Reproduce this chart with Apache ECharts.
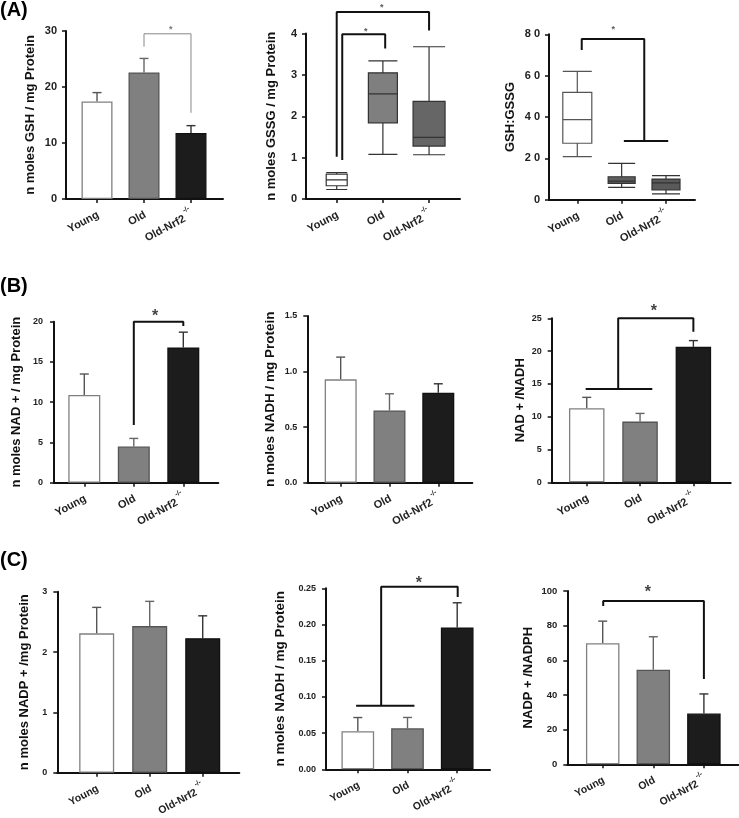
<!DOCTYPE html>
<html><head><meta charset="utf-8">
<script src="https://cdn.jsdelivr.net/npm/echarts@6/dist/echarts.min.js"></script>
<style>html,body{margin:0;padding:0;background:#fff}#c{width:739px;height:818px}</style>
</head><body><div id="c"></div>
<script>
// ---------- DATA ----------
const categories = ['Young', 'Old', 'Old-Nrf2'];
const knockoutMark = '-/-';

// (A) GSH (mean, SEM)
const gshMean = [17.4, 22.6, 11.8];
const gshSem  = [1.6, 2.5, 1.3];
// (A) GSSG box: [min, Q1, median, Q3, max]
const gssgYoung = [0.23, 0.32, 0.46, 0.60, 0.64];
const gssgOld   = [1.08, 1.84, 2.54, 3.05, 3.34];
const gssgNrf2  = [1.07, 1.28, 1.49, 2.36, 3.68];
// (A) GSH:GSSG box
const ratioYoung = [20.8, 27.3, 38.7, 51.9, 62.1];
const ratioOld   = [6.0, 7.9, 9.0, 11.1, 17.6];
const ratioNrf2  = [2.8, 4.7, 8.1, 10.0, 11.6];
// (B)
const nadMean = [10.9, 4.5, 16.8];      const nadSem = [2.6, 1.0, 1.9];
const nadhMean = [0.93, 0.65, 0.81];    const nadhSem = [0.20, 0.15, 0.08];
const nadRatioMean = [11.3, 9.25, 20.65]; const nadRatioSem = [1.65, 1.25, 0.95];
// (C)
const nadpMean = [2.31, 2.43, 2.23];    const nadpSem = [0.43, 0.41, 0.37];
const nadphMean = [0.0525, 0.0566, 0.196]; const nadphSem = [0.019, 0.015, 0.034];
const nadpRatioMean = [69.9, 54.6, 29.3]; const nadpRatioSem = [12.7, 19.0, 11.3];

// y tick values and labels
const ticksA1 = [0, 10, 20, 30];            const labelsA1 = ['0', '10', '20', '30'];
const ticksA2 = [0, 1, 2, 3, 4];            const labelsA2 = ['0', '1', '2', '3', '4'];
const ticksA3 = [0, 20, 40, 60, 80];        const labelsA3 = ['0', '2 0', '4 0', '6 0', '8 0'];
const ticksB1 = [0, 5, 10, 15, 20];         const labelsB1 = ['0', '5', '10', '15', '20'];
const ticksB2 = [0, 0.5, 1, 1.5];           const labelsB2 = ['0.0', '0.5', '1.0', '1.5'];
const ticksB3 = [0, 5, 10, 15, 20, 25];     const labelsB3 = ['0', '5', '10', '15', '20', '25'];
const ticksC1 = [0, 1, 2, 3];               const labelsC1 = ['0', '1', '2', '3'];
const ticksC2 = [0, 0.05, 0.10, 0.15, 0.20, 0.25]; const labelsC2 = ['0.00', '0.05', '0.10', '0.15', '0.20', '0.25'];
const ticksC3 = [0, 20, 40, 60, 80, 100];   const labelsC3 = ['0', '20', '40', '60', '80', '100'];

// significance brackets (data coordinates) and stars
const bracketsA1 = [[[2, 27.2], [2, 29.5], [3, 29.5], [3, 15.4]]];
const starsA1 = [[2.57, 30.7]];
const bracketsA2 = [[[1, 1.02], [1, 4.52], [3, 4.52], [3, 4.07]], [[1.12, 0.94], [1.12, 3.98], [2.05, 3.98], [2.05, 3.64]]];
const starsA2 = [[1.975, 4.69], [1.63, 4.10]];
const bracketsA3 = [[[1.10, 72.4], [1.10, 77.7], [2.51, 77.7], [2.51, 28.4]], [[2.05, 28.4], [3.05, 28.4]]];
const starsA3 = [[1.81, 83.2]];
const bracketsB1 = [[[2, 7.17], [2, 20.0], [3, 20.0], [3, 19.47]]];
const starsB1 = [[2.43, 21.1]];
const bracketsB3 = [[[0.98, 14.22], [2.23, 14.22]], [[1.59, 14.22], [1.59, 25.0], [3, 25.0], [3, 22.96]]];
const starsB3 = [[2.26, 26.6]];
const bracketsC2 = [[[0.966, 0.0878], [2.14, 0.0878]], [[1.47, 0.0878], [1.47, 0.252], [3.01, 0.252], [3.01, 0.238]]];
const starsC2 = [[2.23, 0.262]];
const bracketsC3 = [[[1.01, 91.3], [1.01, 94.2], [3, 94.2], [3, 49.2]]];
const starsC3 = [[1.89, 101.6]];

// ---------- STYLE / LAYOUT ----------
const FONT = 'Liberation Sans, Arial, Helvetica, sans-serif';
const BAR_FILL = ['#ffffff', '#808080', '#1c1c1c'];
const BAR_BORDER = ['#808080', '#555555', '#111111'];
const ERR_COLOR = ['#555555', '#666666', '#333333'];

const option = {
  backgroundColor: '#ffffff',
  animation: false,
  grid: [], xAxis: [], yAxis: [], series: [],
  graphic: [
    {type: 'text', left: 0, top: 0, style: {text: '(A)', font: 'bold 20px ' + FONT, fill: '#000'}},
    {type: 'text', left: 0, top: 276, style: {text: '(B)', font: 'bold 20px ' + FONT, fill: '#000'}},
    {type: 'text', left: 0, top: 550, style: {text: '(C)', font: 'bold 20px ' + FONT, fill: '#000'}}
  ]
};

function addPanel(p) {
  const i = option.grid.length;
  const xi = option.xAxis.length;
  option.grid.push({left: p.box[0], top: p.box[1], width: p.box[2], height: p.box[3], containLabel: false});
  const xf = p.xFont || 11;
  option.xAxis.push({
    type: 'value', gridIndex: i, min: p.xr[0], max: p.xr[1],
    splitLine: {show: false},
    axisLine: {show: true, onZero: false, lineStyle: {color: '#111', width: 2}},
    axisTick: {show: true, customValues: [1, 2, 3], length: 4, lineStyle: {color: '#111', width: 1.5}},
    axisLabel: {
      show: true, customValues: [1, 2, 3], rotate: p.rot || 28, margin: 13,
      formatter: v => {
        const k = Math.round(v) - 1;
        return k === 2 ? '{a|' + categories[k] + '}{s| ' + knockoutMark + '}' : '{a|' + categories[k] + '}';
      },
      rich: {
        a: {fontFamily: FONT, fontWeight: 'bold', fontSize: xf, color: '#222', lineHeight: 16, verticalAlign: 'bottom'},
        s: {fontFamily: FONT, fontWeight: 'bold', fontSize: 7, color: '#222', lineHeight: 16, verticalAlign: 'top'}
      }
    }
  });
  const t = p.ticks;
  option.yAxis.push({
    type: 'value', gridIndex: i, min: t[0], max: t[t.length - 1], interval: t[1] - t[0],
    name: p.name, nameLocation: 'middle', nameGap: p.gap, nameRotate: 90,
    nameTextStyle: {fontFamily: FONT, fontWeight: 'bold', fontSize: p.nameFont || 13, color: '#111'},
    axisLine: {show: true, lineStyle: {color: '#111', width: 2}},
    axisTick: {show: true, length: 4, lineStyle: {color: '#111', width: 1.5}},
    axisLabel: {
      fontFamily: FONT, fontWeight: 'bold', fontSize: p.yFont || 11, color: '#222', margin: p.yMargin || 9,
      formatter: v => p.labels[Math.round((v - t[0]) / (t[1] - t[0]))]
    },
    splitLine: {show: false}
  });
  if (p.mean) {
    option.series.push({
      type: 'custom', xAxisIndex: xi, yAxisIndex: i, z: 2, silent: true,
      encode: {x: 0, y: [1, 2]},
      data: p.mean.map((m, k) => [k + 1, m, m + p.sem[k]]),
      renderItem: (params, api) => {
        const x = api.value(0);
        const lo = api.coord([x, api.value(1)]);
        const hi = api.coord([x, api.value(2)]);
        const c = ERR_COLOR[params.dataIndex];
        return {type: 'group', children: [
          {type: 'line', shape: {x1: lo[0], y1: lo[1], x2: hi[0], y2: hi[1]}, style: {stroke: c, lineWidth: 1.4}},
          {type: 'line', shape: {x1: hi[0] - 4.5, y1: hi[1], x2: hi[0] + 4.5, y2: hi[1]}, style: {stroke: c, lineWidth: 1.4}}
        ]};
      }
    });
    option.series.push({
      type: 'bar', xAxisIndex: xi, yAxisIndex: i, z: 3, barWidth: p.barW, silent: true,
      data: p.mean.map((m, k) => ({value: [k + 1, m], itemStyle: {color: BAR_FILL[k], borderColor: BAR_BORDER[k], borderWidth: 1.3}}))
    });
  }
  if (p.boxes) {
    p.boxes.forEach((b, k) => {
      // each box on its own hidden copy of the x axis, so boxes are not offset side by side
      const bx = option.xAxis.length;
      option.xAxis.push({type: 'value', gridIndex: i, min: p.xr[0], max: p.xr[1], show: false});
      option.series.push({
        type: 'boxplot', xAxisIndex: bx, yAxisIndex: i, z: 3, silent: true,
        boxWidth: [p.boxW[k], p.boxW[k]],
        itemStyle: {color: p.boxFill[k], borderColor: p.boxBorder[k], borderWidth: 1.2},
        data: [[k + 1].concat(b)]
      });
    });
  }
  (p.brackets || []).forEach(br => {
    option.series.push({
      type: 'line', xAxisIndex: xi, yAxisIndex: i, z: 5, silent: true, clip: false,
      symbol: 'none', data: br,
      lineStyle: {color: p.brColor || '#111', width: p.brWidth || 2}
    });
  });
  if (p.stars) {
    option.series.push({
      type: 'scatter', xAxisIndex: xi, yAxisIndex: i, z: 6, silent: true, clip: false,
      symbolSize: 1, itemStyle: {color: 'rgba(0,0,0,0)'},
      data: p.stars,
      label: {show: true, position: 'inside', formatter: '*', offset: [0, (p.starSize || 16) * 0.25],
        fontFamily: FONT, fontWeight: 'bold', fontSize: p.starSize || 16, color: p.starColor || '#111'}
    });
  }
}

// (A)
addPanel({box: [66, 31, 157, 168], xr: [0.34, 3.681], ticks: ticksA1, labels: labelsA1,
  name: 'n moles GSH / mg Protein', gap: 29, mean: gshMean, sem: gshSem, barW: 31,
  brackets: bracketsA1, brColor: '#888', brWidth: 1, stars: starsA1, starSize: 9, starColor: '#555'});
addPanel({box: [306, 33.5, 154, 165.5], xr: [0.335, 3.67], ticks: ticksA2, labels: labelsA2,
  name: 'n moles GSSG / mg Protein', gap: 28,
  boxes: [gssgYoung, gssgOld, gssgNrf2], boxW: [21, 29, 32],
  boxFill: ['#ffffff', '#7f7f7f', '#666666'], boxBorder: ['#333', '#333', '#333'],
  brackets: bracketsA2, stars: starsA2, starSize: 9, starColor: '#333'});
addPanel({box: [549, 34.3, 146, 165.4], xr: [0.362, 3.654], ticks: ticksA3, labels: labelsA3,
  name: 'GSH:GSSG', gap: 32,
  boxes: [ratioYoung, ratioOld, ratioNrf2], boxW: [29, 27, 28],
  boxFill: ['#ffffff', '#5f5f5f', '#5a5a5a'], boxBorder: ['#555', '#333', '#333'],
  brackets: bracketsA3, stars: starsA3, starSize: 9, starColor: '#333'});
// (B)
addPanel({box: [54, 321.7, 164.3, 161], xr: [0.388, 3.707], ticks: ticksB1, labels: labelsB1, yFont: 9, yMargin: 11,
  name: 'n moles NAD + / mg Protein', gap: 31, mean: nadMean, sem: nadSem, barW: 32,
  brackets: bracketsB1, stars: starsB1});
addPanel({box: [307.3, 316, 165, 166.7], xr: [0.316, 3.697], ticks: ticksB2, labels: labelsB2, yFont: 9, yMargin: 10,
  name: 'n moles NADH / mg Protein', gap: 30, nameFont: 13.5, mean: nadhMean, sem: nadhSem, barW: 32});
addPanel({box: [551.7, 318.3, 179, 164], xr: [0.343, 3.70], ticks: ticksB3, labels: labelsB3, yFont: 9, yMargin: 10,
  name: 'NAD + /NADH', gap: 25, mean: nadRatioMean, sem: nadRatioSem, barW: 35.5,
  brackets: bracketsB3, stars: starsB3});
// (C)
addPanel({box: [57.3, 591.7, 182, 181], xr: [0.257, 3.69], ticks: ticksC1, labels: labelsC1, yFont: 9, yMargin: 10, xFont: 10.5,
  name: 'n moles NADP + /mg Protein', gap: 26, mean: nadpMean, sem: nadpSem, barW: 35});
addPanel({box: [326, 588.3, 164, 181], xr: [0.36, 3.66], ticks: ticksC2, labels: labelsC2, yFont: 9, yMargin: 10, xFont: 10.5,
  name: 'n moles NADH / mg Protein', gap: 38.5, nameFont: 13.5, mean: nadphMean, sem: nadphSem, barW: 32.7,
  brackets: bracketsC2, stars: starsC2});
addPanel({box: [567.3, 591, 171, 173.3], xr: [0.30, 3.68], ticks: ticksC3, labels: labelsC3, yFont: 9.5, yMargin: 10, xFont: 10.5,
  name: 'NADP + /NADPH', gap: 32, mean: nadpRatioMean, sem: nadpRatioSem, barW: 33.5,
  brackets: bracketsC3, stars: starsC3});

const chart = echarts.init(document.getElementById('c'), null, {renderer: 'canvas'});
chart.setOption(option);
</script>
</body></html>
